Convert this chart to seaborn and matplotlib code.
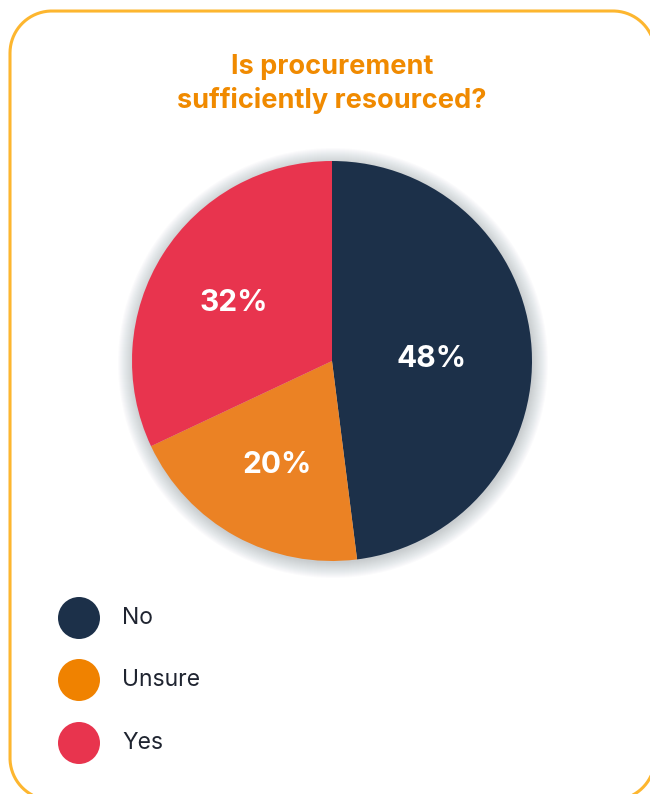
import matplotlib
matplotlib.use("Agg")
import matplotlib.pyplot as plt
import seaborn as sns
import numpy as np
from matplotlib.patches import Circle

sns.set_theme(style="white")
plt.rcParams['font.family'] = ['Inter', 'DejaVu Sans']

title = "Is procurement\nsufficiently resourced?"
categories = ["No", "Unsure", "Yes"]
values = [48, 20, 32]
pie_colors = ["#1C3049", "#EB8224", "#E8344E"]
legend_colors = ["#1C3049", "#F08200", "#E8344E"]
label_dist = [0.50, 0.57, 0.58]

W, H = 650, 794
fig = plt.figure(figsize=(W / 100, H / 100), dpi=100)
ax = fig.add_axes([0, 0, 1, 1])

cx, cy, r = 332, H - 361, 200

# soft shadow glow behind pie
for i in range(16):
    ax.add_patch(Circle((cx + 1, cy - 2), r + 15 - i, color="#2A3A55",
                        alpha=0.014, lw=0, zorder=0))

wedges, texts, autotexts = ax.pie(
    values, colors=pie_colors, startangle=90, counterclock=False,
    center=(cx, cy), radius=r, autopct=lambda p: f"{p:.0f}%",
    pctdistance=0.55, wedgeprops=dict(linewidth=0),
    textprops=dict(color="white", fontsize=21.5, fontweight="bold"))
for w in wedges:
    w.set_zorder(2)
for w, t, d in zip(wedges, autotexts, label_dist):
    ang = np.deg2rad((w.theta1 + w.theta2) / 2)
    t.set_position((cx + d * r * np.cos(ang), cy + d * r * np.sin(ang) - 4))
    t.set_zorder(3)

ax.set_xlim(0, W)
ax.set_ylim(0, H)
ax.set_aspect("equal")
ax.axis("off")

# rounded border (decorative)
def rounded_rect(x0, y0, x1, y1, rad, n=40):
    pts = []
    corners = [(x1 - rad, y1 - rad, 0), (x0 + rad, y1 - rad, 90),
               (x0 + rad, y0 + rad, 180), (x1 - rad, y0 + rad, 270)]
    for ccx, ccy, a0 in corners:
        t = np.deg2rad(np.linspace(a0, a0 + 90, n))
        pts.append(np.column_stack([ccx + rad * np.cos(t), ccy + rad * np.sin(t)]))
    pts = np.vstack(pts)
    return np.vstack([pts, pts[:1]])

bx = rounded_rect(10, H - 800, 655, H - 11, 42)
ax.plot(bx[:, 0], bx[:, 1], color="#FDB62F", lw=2.2, zorder=1,
        solid_capstyle="round")

ax.text(332, H - 84, title, ha="center", va="center", color="#F08A00",
        fontsize=19.5, fontweight="bold", linespacing=1.3)

leg_y = [618, 680, 743]
for lab, col, y in zip(categories, legend_colors, leg_y):
    ax.add_patch(Circle((79, H - y), 21, color=col, lw=0, zorder=2))
    ax.text(122, H - y, lab, ha="left", va="center", color="#1F2430",
            fontsize=16.5)

fig.savefig("out.png", dpi=100, facecolor="white")
